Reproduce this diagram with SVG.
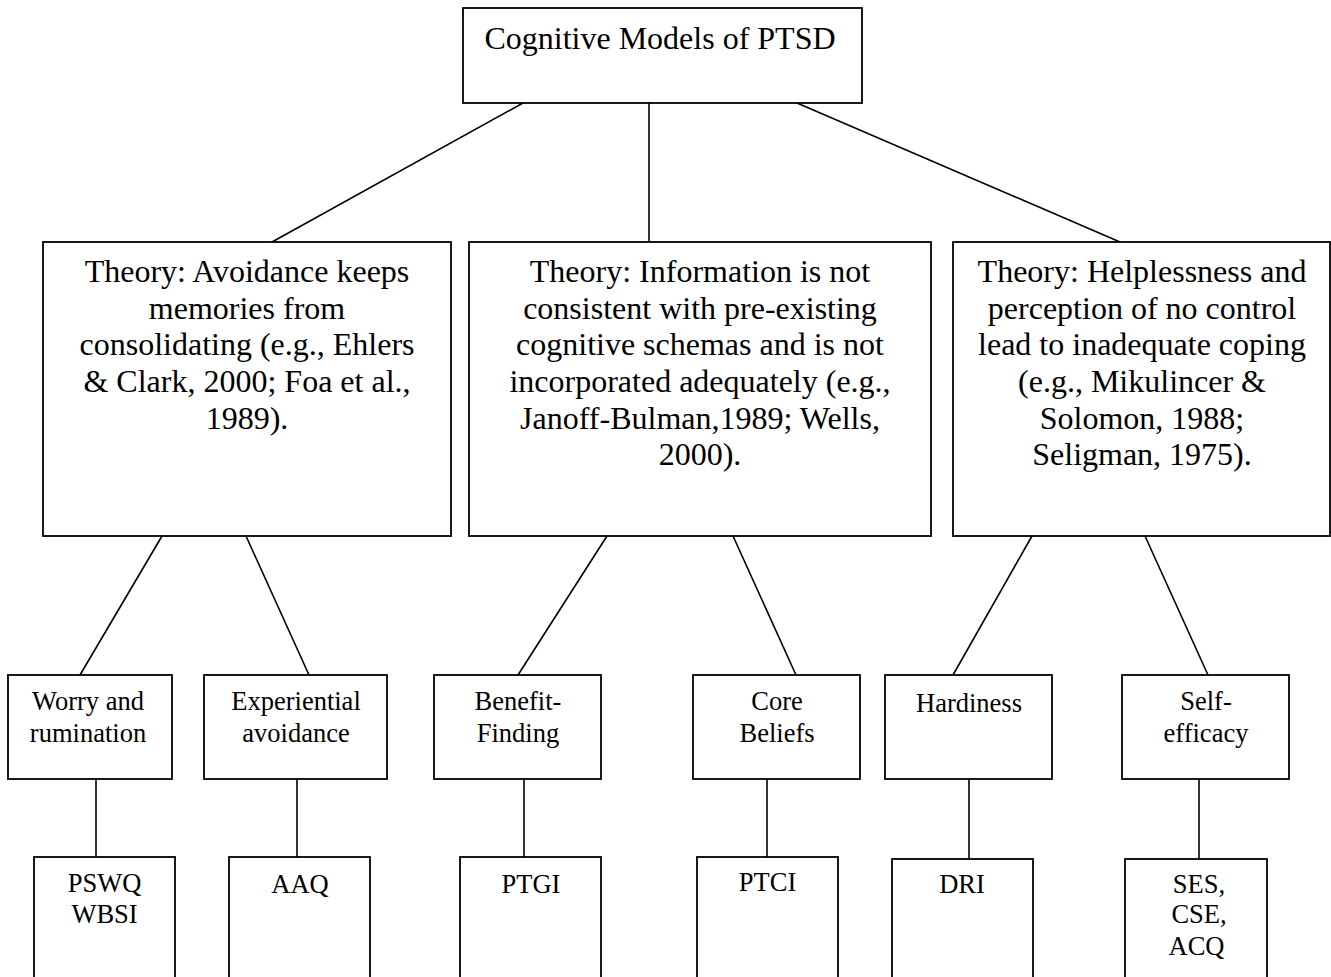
<svg xmlns="http://www.w3.org/2000/svg" width="1331" height="977" viewBox="0 0 1331 977">
<style>
.box{fill:#fff;stroke:#000;stroke-width:1.8}
.ln{stroke:#000;stroke-width:1.6;fill:none}
text{font-family:"Liberation Serif","Times New Roman",serif;fill:#000;text-anchor:middle}
.t1{font-size:32px}
.t2{font-size:26.5px}
</style>
<rect width="1331" height="977" fill="#fff"/>
<g id="connectors">
<line class="ln" x1="523" y1="103" x2="272" y2="242"/>
<line class="ln" x1="649" y1="103" x2="649" y2="242"/>
<line class="ln" x1="797" y1="103" x2="1120" y2="242"/>
<line class="ln" x1="162" y1="536" x2="80" y2="675"/>
<line class="ln" x1="246" y1="536" x2="309" y2="675"/>
<line class="ln" x1="607" y1="536" x2="518" y2="675"/>
<line class="ln" x1="733" y1="536" x2="796" y2="675"/>
<line class="ln" x1="1032" y1="536" x2="953" y2="675"/>
<line class="ln" x1="1145" y1="536" x2="1208" y2="675"/>
<line class="ln" x1="96" y1="779" x2="96" y2="858"/>
<line class="ln" x1="297" y1="779" x2="297" y2="858"/>
<line class="ln" x1="524" y1="779" x2="524" y2="858"/>
<line class="ln" x1="767" y1="779" x2="767" y2="858"/>
<line class="ln" x1="969" y1="779" x2="969" y2="860"/>
<line class="ln" x1="1199" y1="779" x2="1199" y2="860"/>
</g>
<g id="root">
<rect class="box" x="463" y="8" width="399" height="95"/>
<text class="t1" x="660" y="49">Cognitive Models of PTSD</text>
</g>
<g id="theory-avoidance">
<rect class="box" x="43" y="242" width="408" height="294"/>
<text class="t1" x="247" y="282">Theory: Avoidance keeps</text>
<text class="t1" x="247" y="318.5">memories from</text>
<text class="t1" x="247" y="355">consolidating (e.g., Ehlers</text>
<text class="t1" x="247" y="392">&amp; Clark, 2000; Foa et al.,</text>
<text class="t1" x="247" y="428.5">1989).</text>
</g>
<g id="theory-information">
<rect class="box" x="469" y="242" width="462" height="294"/>
<text class="t1" x="700" y="282">Theory: Information is not</text>
<text class="t1" x="700" y="318.5">consistent with pre-existing</text>
<text class="t1" x="700" y="355">cognitive schemas and is not</text>
<text class="t1" x="700" y="392">incorporated adequately (e.g.,</text>
<text class="t1" x="700" y="428.5">Janoff-Bulman,1989; Wells,</text>
<text class="t1" x="700" y="465">2000).</text>
</g>
<g id="theory-helplessness">
<rect class="box" x="953" y="242" width="377" height="294"/>
<text class="t1" x="1142" y="282">Theory: Helplessness and</text>
<text class="t1" x="1142" y="318.5">perception of no control</text>
<text class="t1" x="1142" y="355">lead to inadequate coping</text>
<text class="t1" x="1142" y="392">(e.g., Mikulincer &amp;</text>
<text class="t1" x="1142" y="428.5">Solomon, 1988;</text>
<text class="t1" x="1142" y="465">Seligman, 1975).</text>
</g>
<g id="worry">
<rect class="box" x="8" y="675" width="164" height="104"/>
<text class="t2" x="88" y="710">Worry and</text>
<text class="t2" x="88" y="742">rumination</text>
</g>
<g id="experiential">
<rect class="box" x="204" y="675" width="183" height="104"/>
<text class="t2" x="296" y="710">Experiential</text>
<text class="t2" x="296" y="742">avoidance</text>
</g>
<g id="benefit">
<rect class="box" x="434" y="675" width="167" height="104"/>
<text class="t2" x="518" y="710">Benefit-</text>
<text class="t2" x="518" y="742">Finding</text>
</g>
<g id="core">
<rect class="box" x="693" y="675" width="167" height="104"/>
<text class="t2" x="777" y="710">Core</text>
<text class="t2" x="777" y="742">Beliefs</text>
</g>
<g id="hardiness">
<rect class="box" x="885" y="675" width="167" height="104"/>
<text class="t2" x="969" y="712">Hardiness</text>
</g>
<g id="selfefficacy">
<rect class="box" x="1122" y="675" width="167" height="104"/>
<text class="t2" x="1206" y="710">Self-</text>
<text class="t2" x="1206" y="742">efficacy</text>
</g>
<g id="pswq">
<rect class="box" x="34" y="857" width="141" height="140"/>
<text class="t2" x="104.5" y="892">PSWQ</text>
<text class="t2" x="104.5" y="923">WBSI</text>
</g>
<g id="aaq">
<rect class="box" x="229" y="857" width="141" height="140"/>
<text class="t2" x="300" y="893">AAQ</text>
</g>
<g id="ptgi">
<rect class="box" x="460" y="857" width="141" height="140"/>
<text class="t2" x="531" y="893">PTGI</text>
</g>
<g id="ptci">
<rect class="box" x="697" y="857" width="141" height="140"/>
<text class="t2" x="767.5" y="891">PTCI</text>
</g>
<g id="dri">
<rect class="box" x="892" y="859" width="141" height="140"/>
<text class="t2" x="962" y="893">DRI</text>
</g>
<g id="ses">
<rect class="box" x="1125" y="859" width="142" height="140"/>
<text class="t2" x="1199" y="893">SES,</text>
<text class="t2" x="1199" y="923">CSE,</text>
<text class="t2" x="1196.5" y="955">ACQ</text>
</g>
</svg>
